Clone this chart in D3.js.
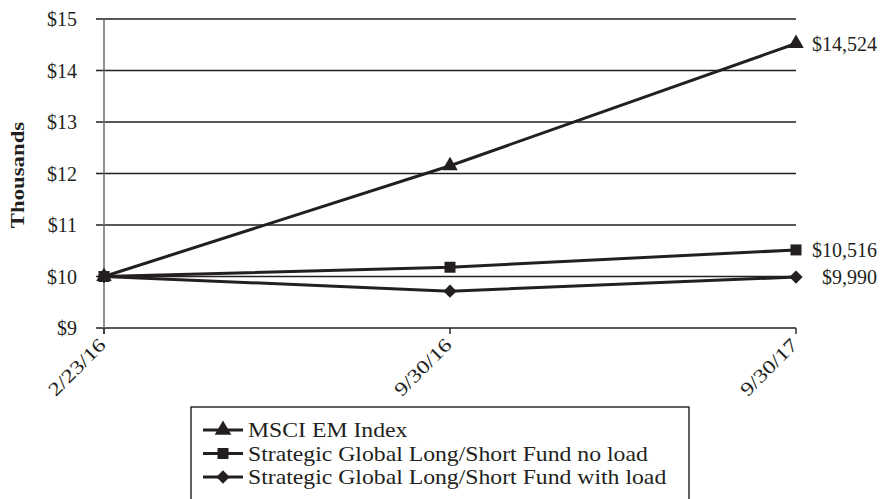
<!DOCTYPE html>
<html>
<head>
<meta charset="utf-8">
<script src="https://cdn.jsdelivr.net/npm/d3@7"></script>
<style>
  html, body { margin: 0; padding: 0; background: #fff; }
  svg { display: block; }
  text { font-family: "Liberation Serif", "Times New Roman", serif; fill: #231f20; }
</style>
</head>
<body>
<svg id="chart" width="882" height="499"></svg>
<script>
// Growth of a $10,000 investment (values in thousands of dollars)
const dates = ["2/23/16", "9/30/16", "9/30/17"];
const msciEM = [10.0, 12.15, 14.524];
const fundNoLoad = [10.0, 10.18, 10.516];
const fundWithLoad = [10.0, 9.715, 9.990];
const yTicks = [9, 10, 11, 12, 13, 14, 15];
const endLabels = ["$14,524", "$10,516", "$9,990"];
const seriesNames = [
  "MSCI EM Index",
  "Strategic Global Long/Short Fund no load",
  "Strategic Global Long/Short Fund with load"
];

const series = [
  { name: seriesNames[0], values: msciEM, marker: "triangle", label: endLabels[0] },
  { name: seriesNames[1], values: fundNoLoad, marker: "square", label: endLabels[1] },
  { name: seriesNames[2], values: fundWithLoad, marker: "diamond", label: endLabels[2] }
];

const ink = "#231f20";
const svg = d3.select("#chart");

const x = d3.scalePoint().domain(dates).range([104, 796]);
const y = d3.scaleLinear().domain([9, 15]).range([328, 19]);

// horizontal gridlines with short left stubs
svg.append("g")
  .selectAll("line")
  .data(yTicks)
  .join("line")
  .attr("x1", 96).attr("x2", 796)
  .attr("y1", d => y(d)).attr("y2", d => y(d))
  .attr("stroke", ink).attr("stroke-width", 1.4);

// y axis line
svg.append("line")
  .attr("x1", 104).attr("x2", 104)
  .attr("y1", y(15)).attr("y2", y(9) + 6)
  .attr("stroke", "#6d6a6b").attr("stroke-width", 1.5);

// x ticks
svg.append("g")
  .selectAll("line")
  .data(dates)
  .join("line")
  .attr("x1", d => x(d)).attr("x2", d => x(d))
  .attr("y1", y(9)).attr("y2", y(9) + 6)
  .attr("stroke", ink).attr("stroke-width", 1.4);

// y tick labels
svg.append("g")
  .selectAll("text")
  .data(yTicks)
  .join("text")
  .attr("x", 77)
  .attr("y", d => y(d))
  .attr("dy", "0.35em")
  .attr("text-anchor", "end")
  .attr("font-size", 20)
  .text(d => "$" + d);

// x tick labels, rotated
svg.append("g")
  .selectAll("text")
  .data(dates)
  .join("text")
  .attr("text-anchor", "end")
  .attr("font-size", 19)
  .attr("transform", d => `translate(${x(d) + 3},${y(9) + 18}) rotate(-45) scale(1.25,1)`)
  .text(d => d);

// y axis title
svg.append("text")
  .attr("transform", `translate(24,175) rotate(-90) scale(1.2,1)`)
  .attr("text-anchor", "middle")
  .attr("font-size", 19)
  .attr("font-weight", "bold")
  .text("Thousands");

// marker shapes
const markerPath = {
  triangle: d3.symbol().type(d3.symbolTriangle).size(105),
  square: d3.symbol().type(d3.symbolSquare).size(121),
  diamond: d3.symbol().type(d3.symbolSquare).size(88)
};
const markerRotate = { triangle: 0, square: 0, diamond: 45 };

const line = d3.line()
  .x((d, i) => x(dates[i]))
  .y(d => y(d));

// draw series: lower ones first so the index line sits on top
[...series].reverse().forEach(s => {
  svg.append("path")
    .attr("d", line(s.values))
    .attr("fill", "none")
    .attr("stroke", ink)
    .attr("stroke-width", 3);
});
[...series].reverse().forEach(s => {
  svg.append("g")
    .selectAll("path")
    .data(s.values)
    .join("path")
    .attr("d", markerPath[s.marker]())
    .attr("transform", (d, i) => `translate(${x(dates[i])},${y(d)}) rotate(${markerRotate[s.marker]})`)
    .attr("fill", ink);
});

// end-value labels
svg.append("g")
  .selectAll("text")
  .data(series)
  .join("text")
  .attr("x", 877)
  .attr("y", d => y(d.values[d.values.length - 1]))
  .attr("dy", "0.35em")
  .attr("text-anchor", "end")
  .attr("font-size", 20)
  .text(d => d.label);

// legend
const legend = svg.append("g");
legend.append("rect")
  .attr("x", 191).attr("y", 407)
  .attr("width", 498).attr("height", 120)
  .attr("fill", "none")
  .attr("stroke", ink).attr("stroke-width", 1.4);

const rows = legend.selectAll("g.row")
  .data(series)
  .join("g")
  .attr("class", "row")
  .attr("transform", (d, i) => `translate(0,${430 + i * 23.5})`);

rows.append("line")
  .attr("x1", 203).attr("x2", 243)
  .attr("y1", 0).attr("y2", 0)
  .attr("stroke", ink).attr("stroke-width", 3);
rows.append("path")
  .attr("d", d => d.marker === "triangle"
    ? d3.symbol().type(d3.symbolTriangle).size(120)()
    : markerPath[d.marker]())
  .attr("transform", d => `translate(223,0) rotate(${markerRotate[d.marker]})`)
  .attr("fill", ink);
rows.append("text")
  .attr("transform", "translate(248,0) scale(1.13,1)")
  .attr("dy", "0.35em")
  .attr("font-size", 21)
  .text(d => d.name);
</script>
</body>
</html>
